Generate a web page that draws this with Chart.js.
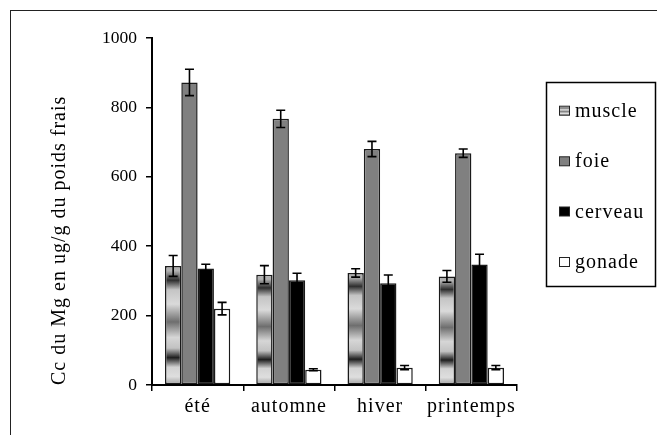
<!DOCTYPE html>
<html>
<head>
<meta charset="utf-8">
<script src="https://cdn.jsdelivr.net/npm/chart.js@4/dist/chart.umd.min.js"></script>
<style>
  html, body { margin: 0; padding: 0; background: #fff; }
  #wrap { width: 657px; height: 435px; position: relative; }
</style>
</head>
<body>
<div id="wrap"><canvas id="c" width="657" height="435"></canvas></div>
<script>
// ---- data ----
const categories = ['été', 'automne', 'hiver', 'printemps'];
const seriesNames = ['muscle', 'foie', 'cerveau', 'gonade'];
const muscle = [343, 318, 323, 313];
const muscleErr = [30, 26, 12, 17];
const foie = [872, 767, 680, 668];
const foieErr = [38, 25, 22, 12];
const cerveau = [336, 302, 293, 347];
const cerveauErr = [12, 20, 24, 30];
const gonade = [220, 44, 50, 50];
const gonadeErr = [18, 3, 6, 6];
const yTicks = [0, 200, 400, 600, 800, 1000];
const yTitle = 'Cc du Mg en ug/g du poids frais';

const FONT = "'Liberation Serif', 'Times New Roman', serif";
const SPACING = '1px';

function muscleGradient(c, top, base) {
  const g = c.createLinearGradient(0, top, 0, base);
  g.addColorStop(0.00, '#a8a8a8');
  g.addColorStop(0.04, '#b4b4b4');
  g.addColorStop(0.12, '#2e2e2e');
  g.addColorStop(0.20, '#c4c4c4');
  g.addColorStop(0.32, '#dadada');
  g.addColorStop(0.47, '#6e6e6e');
  g.addColorStop(0.60, '#d6d6d6');
  g.addColorStop(0.69, '#c2c2c2');
  g.addColorStop(0.77, '#1e1e1e');
  g.addColorStop(0.85, '#d2d2d2');
  g.addColorStop(0.93, '#dedede');
  g.addColorStop(1.00, '#9a9a9a');
  return g;
}

function muscleFill(ctx) {
  const chart = ctx.chart;
  if (ctx.type !== 'data' || !chart.chartArea || !chart.scales.y) return '#c0c0c0';
  const y = chart.scales.y;
  const top = y.getPixelForValue(ctx.raw);
  const base = y.getPixelForValue(0);
  return muscleGradient(chart.ctx, top, base);
}

const fills = [muscleFill, '#808080', '#000000', '#ffffff'];
const legendFills = ['muscle', '#808080', '#000000', '#ffffff'];
const values = [muscle, foie, cerveau, gonade];
const errs = [muscleErr, foieErr, cerveauErr, gonadeErr];

const datasets = seriesNames.map((name, i) => ({
  label: name,
  data: values[i],
  errors: errs[i],
  backgroundColor: fills[i],
  borderColor: '#1a1a1a',
  borderWidth: 1.5,
  borderSkipped: false,
  categoryPercentage: 0.715,
  barPercentage: 1.0
}));

const bgPlugin = {
  id: 'bg',
  beforeDraw(chart) {
    const c = chart.ctx;
    c.save();
    c.fillStyle = '#fff';
    c.fillRect(0, 0, chart.width, chart.height);
    c.strokeStyle = '#222';
    c.lineWidth = 1;
    c.strokeRect(10.5, 10.5, 800, 600);
    c.restore();
    try { c.letterSpacing = '0px'; } catch (e) {}
  }
};

const errorBarPlugin = {
  id: 'errbars',
  afterDatasetsDraw(chart) {
    const c = chart.ctx;
    const y = chart.scales.y;
    c.save();
    c.strokeStyle = '#000';
    c.lineWidth = 1.6;
    chart.data.datasets.forEach((ds, i) => {
      const meta = chart.getDatasetMeta(i);
      meta.data.forEach((bar, j) => {
        const v = ds.data[j], e = ds.errors[j];
        const x = bar.x;
        const y1 = y.getPixelForValue(v + e);
        const y2 = y.getPixelForValue(v - e);
        const cap = 4.5;
        c.beginPath();
        c.moveTo(x, y1); c.lineTo(x, y2);
        c.moveTo(x - cap, y1); c.lineTo(x + cap, y1);
        c.moveTo(x - cap, y2); c.lineTo(x + cap, y2);
        c.stroke();
      });
    });
    c.restore();
    // text drawn after this point (x labels, y title, legend) uses wider spacing
    try { c.letterSpacing = SPACING; } catch (e) {}
  }
};

const legendPlugin = {
  id: 'customLegend',
  afterDraw(chart) {
    const c = chart.ctx;
    c.save();
    try { c.letterSpacing = SPACING; } catch (e) {}
    c.strokeStyle = '#000';
    c.lineWidth = 1.5;
    c.strokeRect(546.5, 82.5, 109, 204);
    const baselines = [116.7, 167.3, 217.5, 268];
    c.font = '20px ' + FONT;
    c.textBaseline = 'alphabetic';
    c.textAlign = 'left';
    chart.data.datasets.forEach((ds, i) => {
      const b = baselines[i];
      const sx = 559.5, sy = b - 10.5, sw = 10, sh = 9;
      if (legendFills[i] === 'muscle') {
        const g = c.createLinearGradient(0, sy, 0, sy + sh);
        g.addColorStop(0, '#e0e0e0');
        g.addColorStop(0.2, '#707070');
        g.addColorStop(0.4, '#e0e0e0');
        g.addColorStop(0.6, '#808080');
        g.addColorStop(0.8, '#e0e0e0');
        g.addColorStop(1, '#909090');
        c.fillStyle = g;
      } else {
        c.fillStyle = legendFills[i];
      }
      c.fillRect(sx, sy, sw, sh);
      c.strokeStyle = '#222';
      c.lineWidth = 1;
      c.strokeRect(sx, sy, sw, sh);
      c.fillStyle = '#000';
      c.fillText(ds.label, 575, b);
    });
    c.restore();
    try { c.letterSpacing = '0px'; } catch (e) {}
  }
};

new Chart(document.getElementById('c'), {
  type: 'bar',
  data: { labels: categories, datasets: datasets },
  options: {
    responsive: false,
    animation: false,
    events: [],
    layout: { padding: { top: 38, right: 140, bottom: 0, left: 0 } },
    plugins: {
      legend: { display: false },
      tooltip: { enabled: false },
      title: { display: false }
    },
    scales: {
      x: {
        offset: true,
        afterFit(s) { s.height = 50; },
        grid: {
          display: true, offset: true, drawOnChartArea: false, drawTicks: true,
          tickLength: 6, color: '#000', lineWidth: 1.5, z: 1
        },
        border: { display: true, color: '#000', width: 2, z: 1 },
        ticks: {
          color: '#000', font: { family: FONT, size: 20 }, padding: 4,
          maxRotation: 0, minRotation: 0, autoSkip: false, z: 1
        }
      },
      y: {
        min: 0, max: 1000,
        afterFit(s) { s.width = 152; },
        afterBuildTicks(s) { s.ticks = yTicks.map(v => ({ value: v })); },
        grid: {
          display: true, drawOnChartArea: false, drawTicks: true,
          tickLength: 6, color: '#000', lineWidth: 1.5, z: 1
        },
        border: { display: true, color: '#000', width: 2, z: 1 },
        ticks: {
          color: '#000', font: { family: FONT, size: 17.5 }, padding: 9, z: 0,
          callback: (v) => String(v)
        },
        title: {
          display: true, text: yTitle, align: 'start',
          color: '#000', font: { family: FONT, size: 20 },
          padding: { top: 48, bottom: 0 }
        }
      }
    }
  },
  plugins: [bgPlugin, errorBarPlugin, legendPlugin]
});
</script>
</body>
</html>
